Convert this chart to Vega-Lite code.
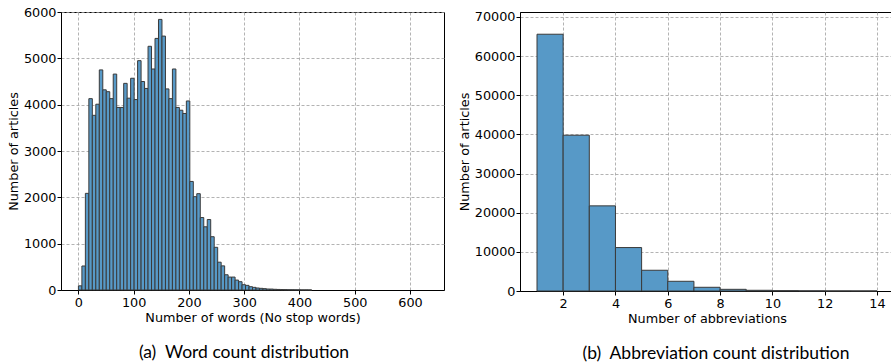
{
  "$schema": "https://vega.github.io/schema/vega-lite/v6.json",
  "bounds": "flush",
  "spacing": 76,
  "padding": {"left": 6, "top": 5, "right": 1, "bottom": 0},
  "config": {
    "font": "DejaVu Sans",
    "view": {"stroke": "black", "strokeWidth": 1},
    "axis": {
      "domainColor": "black", "domainWidth": 1,
      "tickColor": "black", "tickSize": 4, "tickWidth": 1,
      "labelFont": "DejaVu Sans", "labelFontSize": 12.8, "labelColor": "black", "labelPadding": 1,
      "titleFont": "DejaVu Sans", "titleFontSize": 12.8, "titleColor": "black", "titleFontWeight": "normal",
      "gridColor": "#a0a0a0", "gridDash": [3, 2], "gridWidth": 0.8,
      "labelFlush": false, "labelOverlap": false, "labelBound": false
    },
    "axisY": {"titlePadding": 3, "labelPadding": 1},
    "axisX": {"titlePadding": 3, "labelPadding": 2},
    "title": {"font": "Lato", "fontSize": 17.5, "fontWeight": "normal", "color": "black", "orient": "bottom", "offset": 19}
  },
  "hconcat": [
    {
      "width": 383,
      "height": 278,
      "title": {"text": "(a)\u00a0 Word count distribution", "dx": -8.5},
      "data": {"values": [
        {"s": 0, "e": 6.3, "n": 90},
        {"s": 6.3, "e": 12.6, "n": 518},
        {"s": 12.6, "e": 18.9, "n": 2086},
        {"s": 18.9, "e": 25.2, "n": 4130},
        {"s": 25.2, "e": 31.5, "n": 3770},
        {"s": 31.5, "e": 37.8, "n": 4010},
        {"s": 37.8, "e": 44.1, "n": 4750},
        {"s": 44.1, "e": 50.4, "n": 4320},
        {"s": 50.4, "e": 56.7, "n": 4280},
        {"s": 56.7, "e": 63, "n": 4130},
        {"s": 63, "e": 69.3, "n": 4660},
        {"s": 69.3, "e": 75.6, "n": 3940},
        {"s": 75.6, "e": 81.9, "n": 3940},
        {"s": 81.9, "e": 88.2, "n": 4460},
        {"s": 88.2, "e": 94.5, "n": 4140},
        {"s": 94.5, "e": 100.8, "n": 4570},
        {"s": 100.8, "e": 107.1, "n": 4110},
        {"s": 107.1, "e": 113.4, "n": 4950},
        {"s": 113.4, "e": 119.7, "n": 4500},
        {"s": 119.7, "e": 126, "n": 4350},
        {"s": 126, "e": 132.3, "n": 5260},
        {"s": 132.3, "e": 138.6, "n": 4770},
        {"s": 138.6, "e": 144.9, "n": 5430},
        {"s": 144.9, "e": 151.2, "n": 5840},
        {"s": 151.2, "e": 157.5, "n": 5480},
        {"s": 157.5, "e": 163.8, "n": 4340},
        {"s": 163.8, "e": 170.1, "n": 4130},
        {"s": 170.1, "e": 176.4, "n": 4770},
        {"s": 176.4, "e": 182.7, "n": 3940},
        {"s": 182.7, "e": 189, "n": 3880},
        {"s": 189, "e": 195.3, "n": 3810},
        {"s": 195.3, "e": 201.6, "n": 4080},
        {"s": 201.6, "e": 207.9, "n": 2343},
        {"s": 207.9, "e": 214.2, "n": 2014},
        {"s": 214.2, "e": 220.5, "n": 2079},
        {"s": 220.5, "e": 226.8, "n": 1564},
        {"s": 226.8, "e": 233.1, "n": 1364},
        {"s": 233.1, "e": 239.4, "n": 1521},
        {"s": 239.4, "e": 245.7, "n": 1150},
        {"s": 245.7, "e": 252, "n": 921},
        {"s": 252, "e": 258.3, "n": 600},
        {"s": 258.3, "e": 264.6, "n": 521},
        {"s": 264.6, "e": 270.9, "n": 329},
        {"s": 270.9, "e": 277.2, "n": 279},
        {"s": 277.2, "e": 283.5, "n": 279},
        {"s": 283.5, "e": 289.8, "n": 214},
        {"s": 289.8, "e": 296.1, "n": 179},
        {"s": 296.1, "e": 302.4, "n": 114},
        {"s": 302.4, "e": 308.7, "n": 100},
        {"s": 308.7, "e": 315, "n": 71},
        {"s": 315, "e": 321.3, "n": 57},
        {"s": 321.3, "e": 327.6, "n": 43},
        {"s": 327.6, "e": 333.9, "n": 36},
        {"s": 333.9, "e": 340.2, "n": 29},
        {"s": 340.2, "e": 346.5, "n": 21},
        {"s": 346.5, "e": 352.8, "n": 20},
        {"s": 352.8, "e": 359.1, "n": 15},
        {"s": 359.1, "e": 365.4, "n": 12},
        {"s": 365.4, "e": 371.7, "n": 10},
        {"s": 371.7, "e": 378, "n": 8},
        {"s": 378, "e": 384.3, "n": 6},
        {"s": 384.3, "e": 390.6, "n": 5},
        {"s": 390.6, "e": 396.9, "n": 4},
        {"s": 396.9, "e": 403.2, "n": 3},
        {"s": 403.2, "e": 409.5, "n": 2},
        {"s": 409.5, "e": 415.8, "n": 2},
        {"s": 415.8, "e": 422.1, "n": 1}
      ]},
      "mark": {"type": "bar", "fill": "#5799c7", "stroke": "#3a3a3a", "strokeWidth": 1},
      "encoding": {
        "x": {"field": "s", "type": "quantitative", "title": "Number of words (No stop words)",
              "scale": {"domain": [-31.5, 661.5], "nice": false, "zero": false},
              "axis": {"values": [0, 100, 200, 300, 400, 500, 600], "format": "d"}},
        "x2": {"field": "e"},
        "y": {"field": "n", "type": "quantitative", "title": "Number of articles",
              "scale": {"domain": [0, 6000], "nice": false},
              "axis": {"values": [0, 1000, 2000, 3000, 4000, 5000, 6000], "format": "d"}},
        "y2": {"datum": 0}
      }
    },
    {
      "width": 374,
      "height": 279,
      "title": {"text": "(b)\u00a0 Abbreviation count distribution", "dx": 9},
      "data": {"values": [
        {"s": 1, "e": 2, "n": 65600},
        {"s": 2, "e": 3, "n": 39800},
        {"s": 3, "e": 4, "n": 21750},
        {"s": 4, "e": 5, "n": 11100},
        {"s": 5, "e": 6, "n": 5300},
        {"s": 6, "e": 7, "n": 2480},
        {"s": 7, "e": 8, "n": 950},
        {"s": 8, "e": 9, "n": 430},
        {"s": 9, "e": 10, "n": 180},
        {"s": 10, "e": 11, "n": 90},
        {"s": 11, "e": 12, "n": 45},
        {"s": 12, "e": 13, "n": 25},
        {"s": 13, "e": 14, "n": 15}
      ]},
      "mark": {"type": "bar", "fill": "#5799c7", "stroke": "#3a3a3a", "strokeWidth": 1},
      "encoding": {
        "x": {"field": "s", "type": "quantitative", "title": "Number of abbreviations",
              "scale": {"domain": [0.35, 14.65], "nice": false, "zero": false},
              "axis": {"values": [2, 4, 6, 8, 10, 12, 14], "format": "d"}},
        "x2": {"field": "e"},
        "y": {"field": "n", "type": "quantitative", "title": "Number of articles",
              "scale": {"domain": [0, 71277], "nice": false},
              "axis": {"values": [0, 10000, 20000, 30000, 40000, 50000, 60000, 70000], "format": "d"}},
        "y2": {"datum": 0}
      }
    }
  ]
}
